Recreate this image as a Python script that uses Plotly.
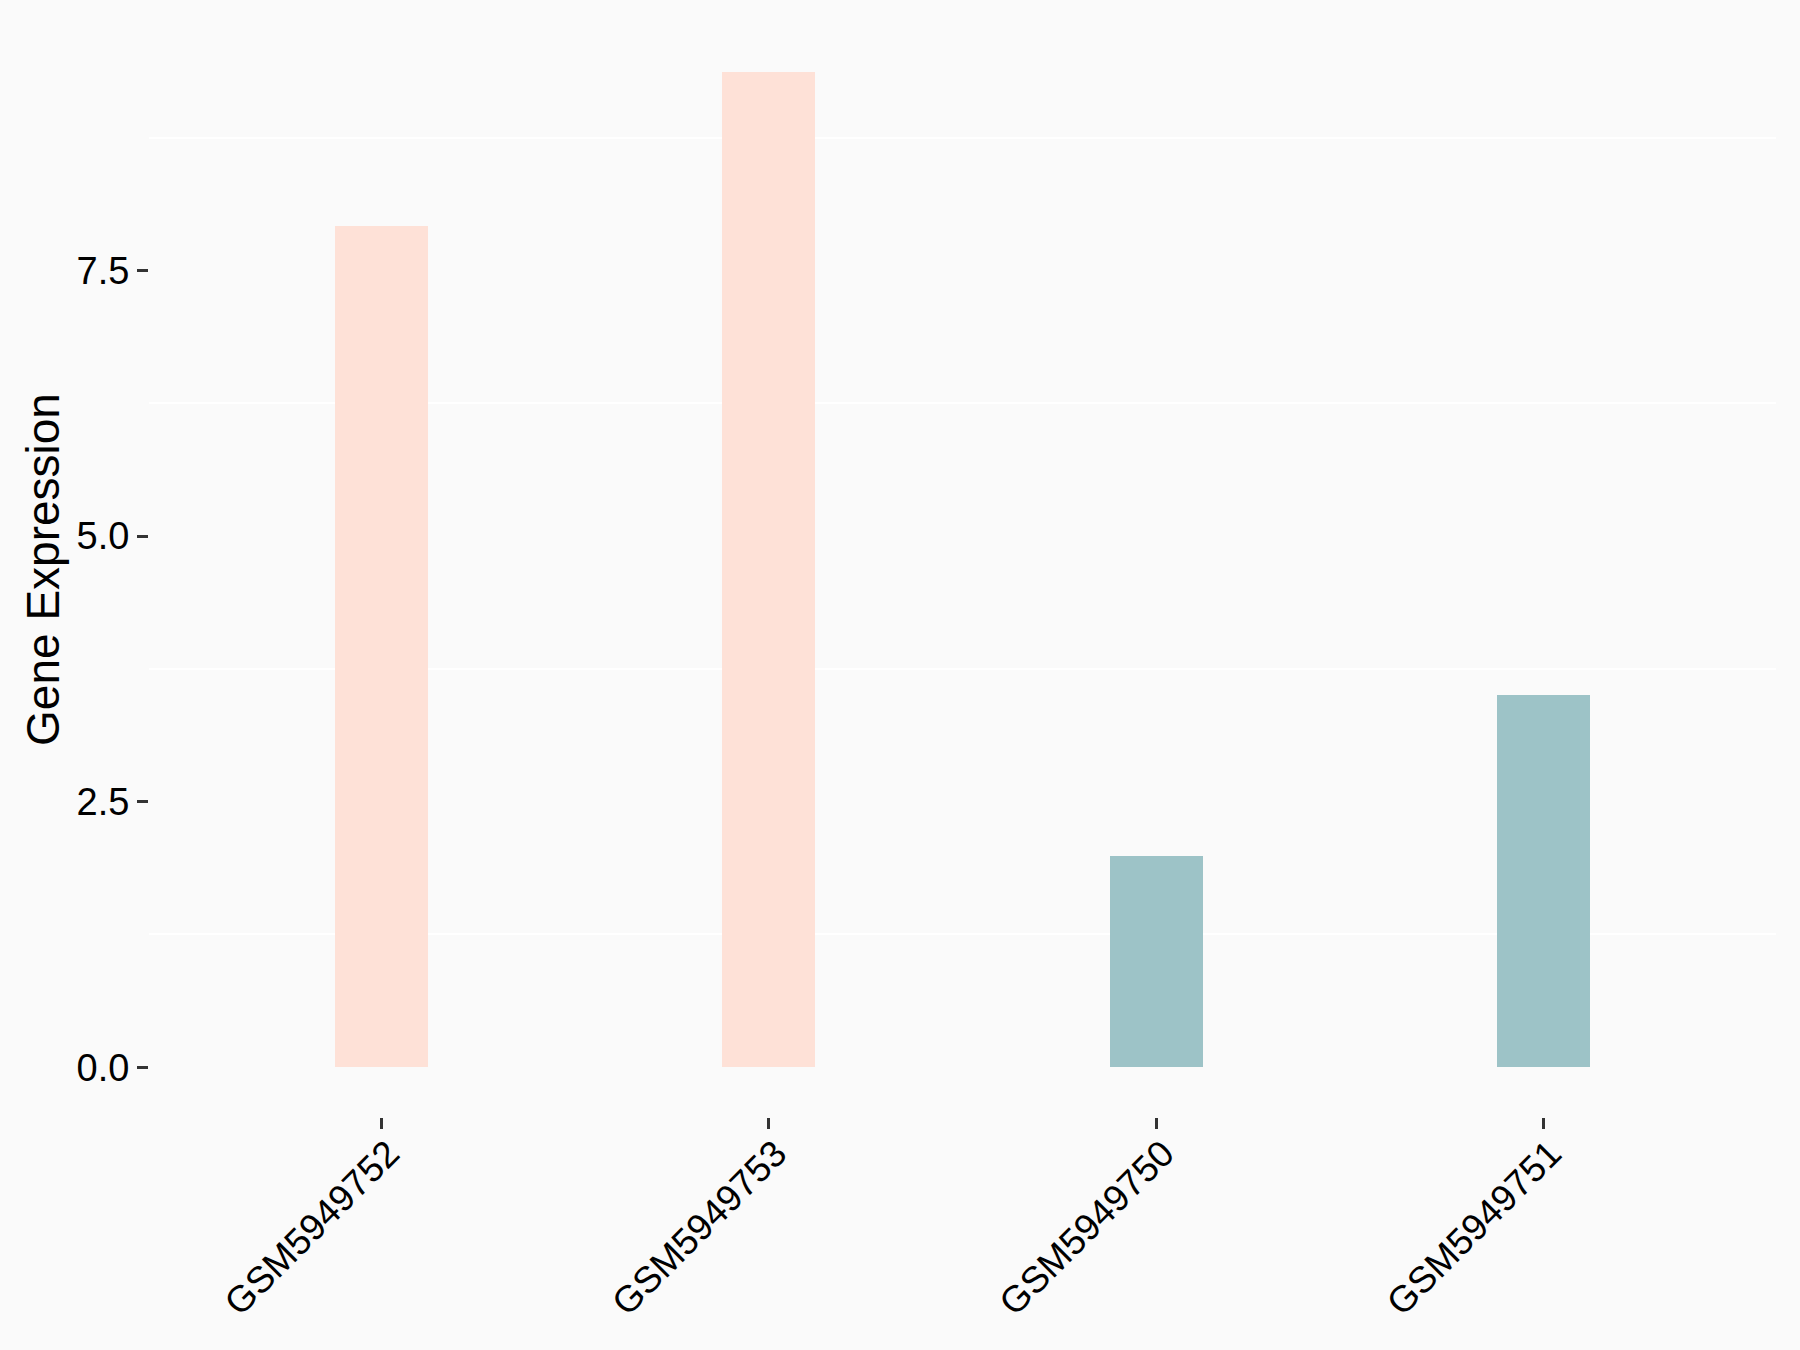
import plotly.graph_objects as go

samples = ["GSM5949752", "GSM5949753", "GSM5949750", "GSM5949751"]
expression = [7.92, 9.37, 1.99, 3.50]
groups = ["A", "A", "B", "B"]
group_colors = {"A": "#FEE1D7", "B": "#9DC3C7"}
y_tick_vals = [0.0, 2.5, 5.0, 7.5]
y_tick_text = ["0.0", "2.5", "5.0", "7.5"]

fig = go.Figure()
fig.add_trace(go.Bar(
    x=samples,
    y=expression,
    width=0.24,
    marker=dict(color=[group_colors[g] for g in groups], line=dict(width=0)),
    showlegend=False,
))

ymax = max(expression)
pad = ymax * 0.05
font_family = "Liberation Sans, Arial, sans-serif"

fig.update_layout(
    width=1800, height=1350,
    paper_bgcolor="#FAFAFA", plot_bgcolor="#FAFAFA",
    margin=dict(l=149, r=24, t=22, b=233, autoexpand=False),
    font=dict(family=font_family, color="black", size=38),
    bargap=0,
    xaxis=dict(
        range=[-0.6, 3.6], automargin=False,
        showgrid=False, zeroline=False, showline=False,
        ticks="outside", ticklen=11, tickwidth=3, tickcolor="#333333",
        tickangle=-45,
        ticklabelstandoff=-12, ticklabelshift=7,
        tickfont=dict(size=37, color="black", family=font_family),
    ),
    yaxis=dict(
        range=[-pad, ymax + pad], automargin=False,
        tickvals=y_tick_vals, ticktext=y_tick_text,
        showgrid=False, zeroline=False, showline=False,
        ticks="outside", ticklen=11, tickwidth=3, tickcolor="#333333",
        tickfont=dict(size=38, color="black", family=font_family),
        title=dict(text="Gene Expression", font=dict(size=46, color="black", family=font_family), standoff=2),
        minor=dict(showgrid=True, gridcolor="white", gridwidth=1.5, tick0=1.25, dtick=2.5, ticks=""),
    ),
)

fig.write_html(
    "out.html",
    config={"displayModeBar": False},
    post_script="document.body.style.margin='0';document.body.style.background='#FAFAFA';",
)
